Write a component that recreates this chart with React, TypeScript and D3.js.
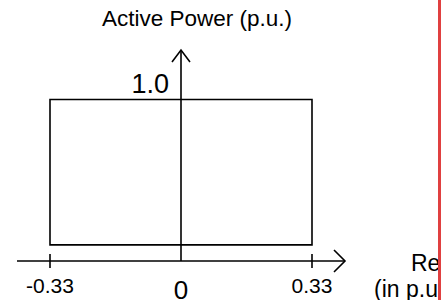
import React from "react";
import * as d3 from "d3";

const qLimits = [-0.33, 0.33];
const pLimits = [0.1, 1.0];
const xTickValues = [-0.33, 0.33];
const xTickLabels = ["-0.33", "0.33"];
const originLabel = "0";
const yMaxLabel = "1.0";
const yTitle = "Active Power (p.u.)";
const xTitleLines = ["Reactive Power", "(in p.u.)"];

const W = 441;
const H = 300;
const FONT = "'Liberation Sans', Arial, Helvetica, sans-serif";

export default function App() {
  const x = d3.scaleLinear().domain([-0.33, 0.33]).range([50, 312]);
  const y = d3.scaleLinear().domain([0, 1]).range([261, 99.5]);
  const x0 = x(0);
  const y0 = y(0);
  const axisLeft = 17;
  const axisRight = 345;
  const axisTop = 50;

  const boxPath = d3.path();
  boxPath.rect(
    x(qLimits[0]),
    y(pLimits[1]),
    x(qLimits[1]) - x(qLimits[0]),
    y(pLimits[0]) - y(pLimits[1])
  );

  return (
    <svg
      width={W}
      height={H}
      style={{ position: "fixed", left: 0, top: 0, background: "#fff" }}
    >
      <rect x={0} y={0} width={W} height={H} fill="#fff" />
      <path d={boxPath.toString()} fill="none" stroke="#000" strokeWidth={1.6} />
      <line x1={axisLeft} y1={y0} x2={axisRight} y2={y0} stroke="#000" strokeWidth={1.6} />
      <polyline
        points={`${axisRight - 11},${y0 - 11} ${axisRight},${y0} ${axisRight - 11},${y0 + 11}`}
        fill="none"
        stroke="#000"
        strokeWidth={1.6}
      />
      <line x1={x0} y1={y0} x2={x0} y2={axisTop} stroke="#000" strokeWidth={1.6} />
      <polyline
        points={`${x0 - 9},${axisTop + 12} ${x0},${axisTop} ${x0 + 9},${axisTop + 12}`}
        fill="none"
        stroke="#000"
        strokeWidth={1.6}
      />
      {xTickValues.map((v, i) => (
        <g key={i}>
          <line x1={x(v)} y1={y0 - 7} x2={x(v)} y2={y0 + 7} stroke="#000" strokeWidth={1.6} />
          <text x={x(v)} y={293} textAnchor="middle" fontFamily={FONT} fontSize={21} fill="#000">
            {xTickLabels[i]}
          </text>
        </g>
      ))}
      <text x={x0} y={298.5} textAnchor="middle" fontFamily={FONT} fontSize={26} fill="#000">
        {originLabel}
      </text>
      <text x={x0 - 12} y={93} textAnchor="end" fontFamily={FONT} fontSize={27} fill="#000">
        {yMaxLabel}
      </text>
      <text x={197} y={26} textAnchor="middle" fontFamily={FONT} fontSize={22.5} fill="#000">
        {yTitle}
      </text>
      <text x={411} y={271} fontFamily={FONT} fontSize={23} fill="#000">
        {xTitleLines[0]}
      </text>
      <text x={374} y={297} fontFamily={FONT} fontSize={23} fill="#000">
        {xTitleLines[1]}
      </text>
      <rect x={438} y={0} width={W} height={H} fill="#fff" />
      <rect x={438} y={0} width={3} height={H} fill="#e04040" />
    </svg>
  );
}
